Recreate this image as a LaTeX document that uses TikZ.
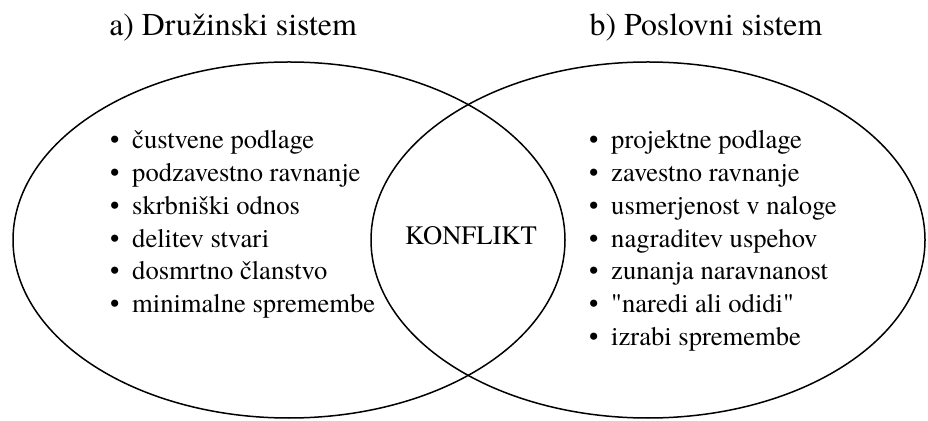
\documentclass[tikz,border=0pt]{standalone}
\usepackage{fontspec}
\newfontfamily\tnr{texgyretermes-regular.otf}
\tikzset{
  item/.style={anchor=base west, inner sep=0pt, font=\tnr\fontsize{26.6}{30}\selectfont},
  heading/.style={anchor=base, inner sep=0pt, font=\tnr\fontsize{31.8}{36}\selectfont}
}
\newcommand{\bul}{\makebox[22pt][l]{\textbullet}}
\begin{document}
\begin{tikzpicture}[x=1pt,y=1pt]
\useasboundingbox (0,0) rectangle (928,420);
\draw[line width=1.5pt] (289,180) ellipse [x radius=276pt, y radius=178pt];
\draw[line width=1.5pt] (648,180) ellipse [x radius=277pt, y radius=178pt];
\node[heading] (famhead) at (233,384) {a) Družinski sistem};
\node[heading] (bizhead) at (706,384) {b) Poslovni sistem};
\node[item, anchor=base] (konflikt) at (471,175) {KONFLIKT};
\foreach \txt [count=\i] in {čustvene podlage, podzavestno ravnanje, skrbniški odnos, delitev stvari, dosmrtno članstvo, minimalne spremembe}
  \node[item] (fam\i) at (110,{271-(\i-1)*32.7}) {\bul\txt};
\foreach \txt [count=\i] in {projektne podlage, zavestno ravnanje, usmerjenost v naloge, nagraditev uspehov, zunanja naravnanost, "naredi ali odidi", izrabi spremembe}
  \node[item] (biz\i) at (589,{271-(\i-1)*32.7}) {\bul\txt};
\end{tikzpicture}
\end{document}
